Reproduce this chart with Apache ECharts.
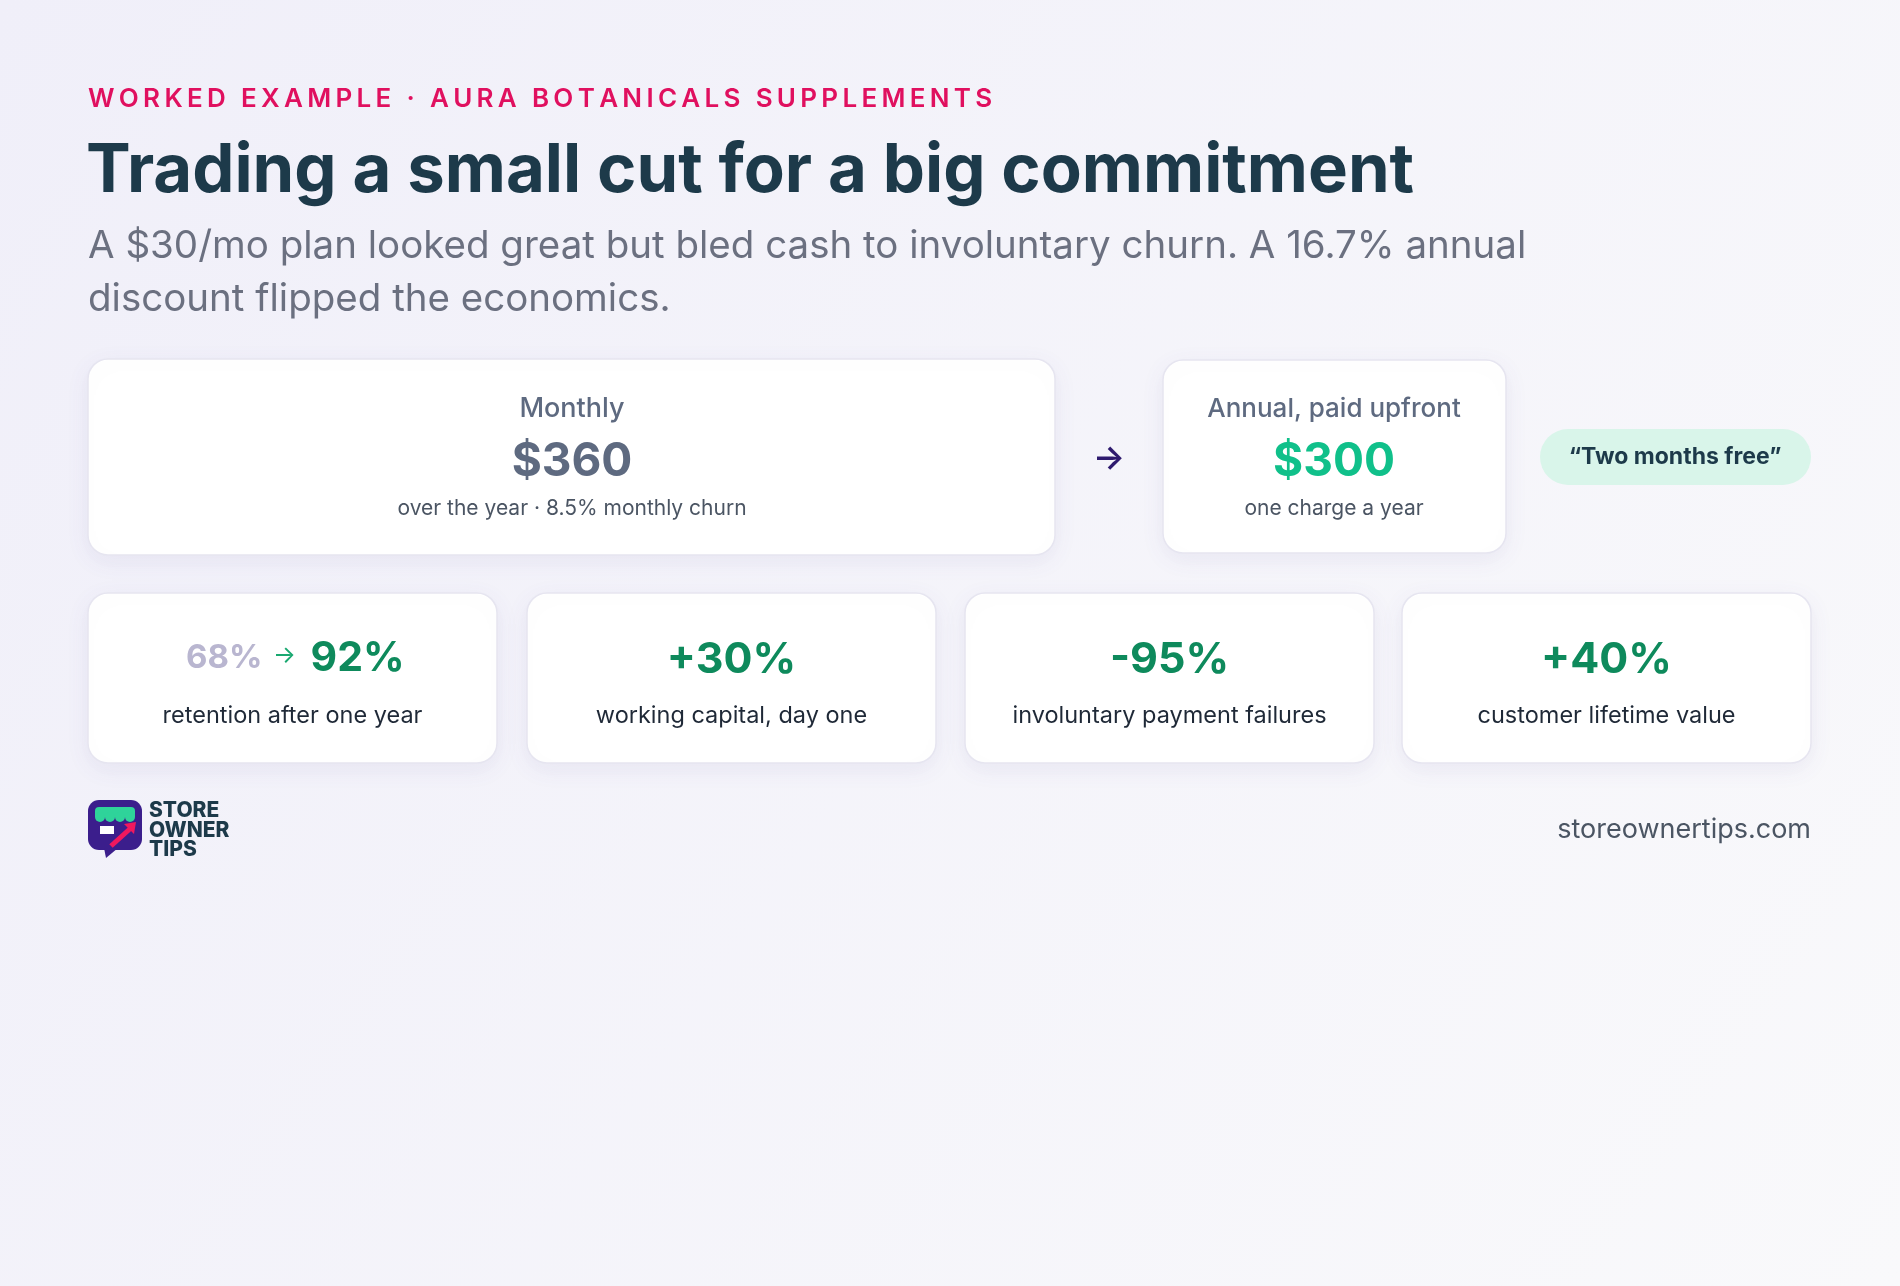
<!DOCTYPE html>
<html><head><meta charset="utf-8">
<script src="https://cdn.jsdelivr.net/npm/echarts@6/dist/echarts.min.js"></script>
<style>html,body{margin:0;padding:0;background:#f4f3fa}#c{width:1900px;height:1286px}</style>
</head><body><div id="c"></div>
<script>
const eyebrow = 'WORKED EXAMPLE · AURA BOTANICALS SUPPLEMENTS';
const title = 'Trading a small cut for a big commitment';
const subtitle = ['A $30/mo plan looked great but bled cash to involuntary churn. A 16.7% annual', 'discount flipped the economics.'];
const plans = [
  {label: 'Monthly', value: '$360', note: 'over the year · 8.5% monthly churn'},
  {label: 'Annual, paid upfront', value: '$300', note: 'one charge a year'}
];
const pill = '“Two months free”';
const statValues = ['+30%', '-95%', '+40%'];
const statLabels = ['retention after one year', 'working capital, day one', 'involuntary payment failures', 'customer lifetime value'];
const retentionFrom = '68%', retentionTo = '92%';
const site = 'storeownertips.com';
const logoWords = ['STORE', 'OWNER', 'TIPS'];

const F = 'Inter, "Noto Sans", sans-serif';
const chart = echarts.init(document.getElementById('c'));
const g = [];
g.push({type:'rect', shape:{x:0,y:0,width:1900,height:1286}, style:{fill:new echarts.graphic.LinearGradient(0,0,1,1,[{offset:0,color:'#f0eff9'},{offset:1,color:'#f9f9fb'}])}, silent:true});
function card(x,y,w,h){
  g.push({type:'rect', shape:{x,y,width:w,height:h,r:20}, style:{fill:'#fff',stroke:'#e6e5f0',lineWidth:1.5,shadowBlur:24,shadowColor:'rgba(90,80,160,0.08)',shadowOffsetY:6}});
}
function txt(x,y,text,size,color,weight,align){
  g.push({type:'text', x, y, style:{text, font:`${weight||400} ${size}px ${F}`, fill:color, align:align||'left', verticalAlign:'middle'}});
}
txt(88,99,eyebrow.split('').join('\u2009'),26,'#e0105f',600);
txt(86,172,title,67,'#1d3a4a',700);
txt(88,246,subtitle[0],38.5,'#6b7080',400);
txt(88,299,subtitle[1],38.5,'#6b7080',400);

card(88,359,967,196);
txt(572,409,plans[0].label,27,'#5e6a80',500,'center');
txt(572,462,plans[0].value,46,'#5e6a80',700,'center');
txt(572,509,plans[0].note,21,'#4b5563',400,'center');
txt(1109,459,'→',34,'#2e1a6e',600,'center');
card(1163,360,343,193);
txt(1334,409,plans[1].label,26,'#5e6a80',500,'center');
txt(1334,462,plans[1].value,46,'#10c08a',700,'center');
txt(1334,509,plans[1].note,21,'#4b5563',400,'center');
g.push({type:'rect', shape:{x:1540,y:429,width:271,height:56,r:28}, style:{fill:'#d9f5ea'}});
txt(1675,457,pill,23,'#1d3a4a',700,'center');

const xs = [88,527,965,1402], w = 409;
xs.forEach((x,i)=>{
  card(x,593,w,170);
  const cx = x + w/2;
  if(i===0){
    txt(cx-30,658,retentionFrom,33,'#b9b6d0',700,'right');
    txt(cx-8,656,'→',24,'#19a870',400,'center');
    txt(cx+18,659,retentionTo,41,'#0e8a5c',700,'left');
  } else {
    txt(cx,660,statValues[i-1],43,'#0e8a5c',700,'center');
  }
  txt(cx,716,statLabels[i],23.5,'#1f2937',400,'center');
});

// logo
g.push({type:'rect', shape:{x:88,y:800,width:54,height:50,r:11}, style:{fill:'#3b1e8c'}});
g.push({type:'polygon', shape:{points:[[104,848],[118,848],[106,858]]}, style:{fill:'#3b1e8c'}});
g.push({type:'rect', shape:{x:95,y:807,width:40,height:10,r:[4,4,0,0]}, style:{fill:'#2fd39a'}});
[0,1,2,3].forEach(k=>g.push({type:'circle', shape:{cx:100+k*10,cy:817,r:5}, style:{fill:'#2fd39a'}}));
g.push({type:'rect', shape:{x:100,y:826,width:14,height:8}, style:{fill:'#fff'}});
g.push({type:'line', shape:{x1:111,y1:846,x2:132,y2:827}, style:{stroke:'#f0185e',lineWidth:5}});
g.push({type:'polygon', shape:{points:[[124,824],[136,822],[134,834]]}, style:{fill:'#f0185e'}});
logoWords.forEach((wd,k)=>txt(149,811+k*19.5,wd,21,'#1d3a4a',800));
txt(1811,830,site,27,'#4b5563',400,'right');

chart.setOption({animation:false, graphic:{elements:g}});
</script></body></html>
